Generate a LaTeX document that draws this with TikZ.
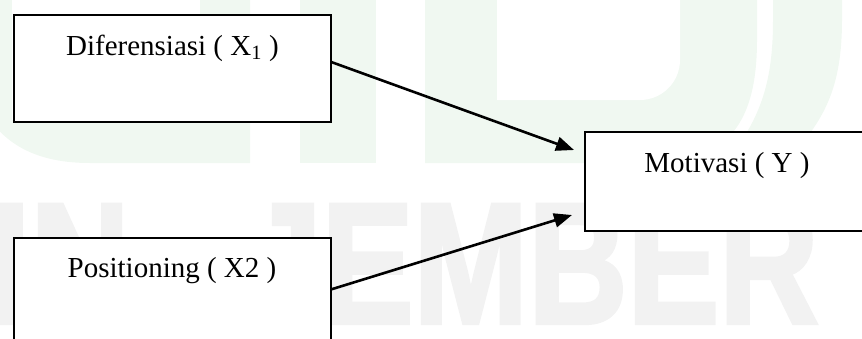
\documentclass[tikz,border=0pt]{standalone}
\usepackage{fontspec}
\setmainfont{Liberation Serif}
\newfontfamily\wmfont[BoldFeatures={FakeBold=2.5}]{Liberation Sans}
\usetikzlibrary{arrows.meta,calc}
\definecolor{wmgreen}{RGB}{240,248,241}
\definecolor{wmgrey}{RGB}{242,242,242}
\begin{document}
\begin{tikzpicture}[x=1pt,y=-1pt,
  box/.style={draw=black, line width=1.6pt, fill=white, rectangle, inner sep=0pt},
  lbl/.style={anchor=base, inner sep=0pt, font=\fontsize{29}{31}\selectfont},
  conn/.style={line width=2.6pt, -{Triangle[length=18pt,width=14pt]}},
  wm/.style={anchor=base west, inner sep=0pt, text=wmgrey, font=\wmfont\bfseries\fontsize{172}{172}\selectfont, xscale=0.8}]
\useasboundingbox (0,0) rectangle (862,338);
\clip (0,0) rectangle (862,338);
% watermark (green part)
\fill[wmgreen] (-30,-5) -- (250,-5) -- (250,163) -- (90,163) .. controls (30,163) and (-10,140) .. (-30,80) -- cycle;
\fill[white] (12,-5) rectangle (200,120);
\fill[wmgreen] (300,-5) rectangle (376,163);
\fill[wmgreen] (425,-5) -- (757,-5) -- (757,40) .. controls (757,120) and (730,163) .. (650,163) -- (425,163) -- cycle;
\fill[white] (497,-5) -- (680,-5) -- (680,60) .. controls (680,82) and (662,100) .. (640,100) -- (497,100) -- cycle;
\fill[wmgreen] (773,-5) -- (842,-5) -- (842,20) .. controls (842,80) and (828,110) .. (805,140) -- (742,140) .. controls (765,105) and (773,70) .. (773,20) -- cycle;
% watermark (grey part)
\node[wm] (wmA) at (-8,323) {IN};
\node[wm] (wmB) at (245,323) {JEMBER};
% boxes
\node[box, minimum width=317pt, minimum height=107pt] (b1) at (172.5,68.5) {};
\node[box, minimum width=317pt, minimum height=107pt] (b2) at (172.5,291.5) {};
\node[box, minimum width=284pt, minimum height=99pt] (b3) at (727,181.5) {};
\node[lbl] (t1) at (172.5,55) {Diferensiasi ( X\textsubscript{1} )};
\node[lbl] (t2) at (172,277) {Positioning ( X2 )};
\node[lbl] (t3) at (727,172) {Motivasi ( Y )};
% connectors
\coordinate (e1) at (574,150);
\coordinate (e2) at (572,215);
\draw[conn] ($(b1.north east)+(0,48)$) -- (e1);
\draw[conn] ($(b2.north east)+(0,52)$) -- (e2);
\end{tikzpicture}
\end{document}
